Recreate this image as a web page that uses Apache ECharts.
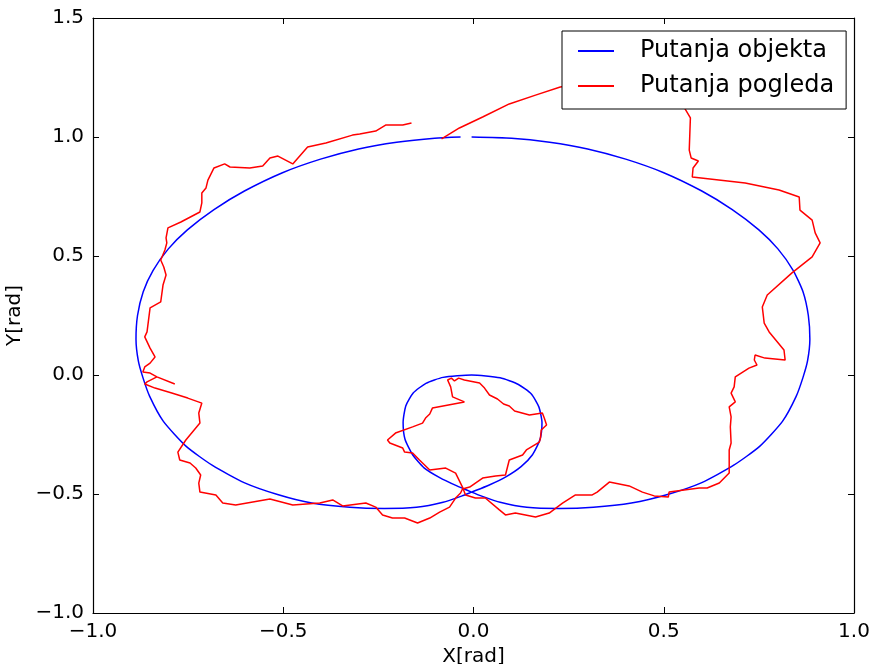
<!DOCTYPE html>
<html>
<head>
<meta charset="utf-8">
<script src="https://cdn.jsdelivr.net/npm/echarts@6/dist/echarts.min.js"></script>
<style>
html,body{margin:0;padding:0;background:#fff;overflow:hidden;}
#chart{width:870px;height:664px;}
</style>
</head>
<body>
<div id="chart"></div>
<script>
// Object trajectory (blue)
const objectX = [-0.005, 0.100, 0.200, 0.300, 0.400, 0.500, 0.600, 0.680, 0.750, 0.800, 0.840, 0.866, 0.880, 0.884, 0.878, 0.866, 0.848, 0.812, 0.752, 0.683, 0.600, 0.510, 0.415, 0.315, 0.225, 0.140, 0.070, 0.020, -0.005, -0.045, -0.090, -0.130, -0.160, -0.180, -0.185, -0.178, -0.158, -0.125, -0.080, -0.005, 0.070, 0.118, 0.152, 0.172, 0.180, 0.175, 0.155, 0.125, 0.085, 0.040, -0.005, -0.030, -0.080, -0.150, -0.235, -0.325, -0.425, -0.515, -0.603, -0.686, -0.755, -0.815, -0.851, -0.869, -0.881, -0.887, -0.883, -0.868, -0.842, -0.802, -0.752, -0.682, -0.602, -0.502, -0.402, -0.302, -0.202, -0.102, -0.034];
const objectY = [1.000, 0.995, 0.978, 0.950, 0.907, 0.850, 0.773, 0.695, 0.610, 0.530, 0.440, 0.350, 0.250, 0.150, 0.060, -0.010, -0.090, -0.195, -0.300, -0.380, -0.452, -0.502, -0.538, -0.556, -0.561, -0.556, -0.535, -0.508, -0.492, -0.465, -0.430, -0.390, -0.335, -0.270, -0.200, -0.130, -0.075, -0.035, -0.010, 0.000, -0.012, -0.040, -0.080, -0.135, -0.200, -0.270, -0.335, -0.385, -0.428, -0.463, -0.492, -0.508, -0.535, -0.556, -0.561, -0.556, -0.538, -0.502, -0.452, -0.380, -0.300, -0.195, -0.090, -0.010, 0.060, 0.150, 0.250, 0.350, 0.440, 0.530, 0.610, 0.695, 0.773, 0.850, 0.907, 0.950, 0.978, 0.995, 1.000];

// Gaze trajectory (red)
const gazeX = [-0.084, -0.037, 0.024, 0.094, 0.163, 0.228, 0.383, 0.514, 0.551, 0.556, 0.570, 0.567, 0.572, 0.591, 0.577, 0.575, 0.714, 0.803, 0.856, 0.858, 0.890, 0.898, 0.911, 0.890, 0.837, 0.772, 0.759, 0.764, 0.777, 0.816, 0.819, 0.766, 0.740, 0.738, 0.745, 0.724, 0.688, 0.685, 0.677, 0.688, 0.672, 0.677, 0.675, 0.677, 0.672, 0.672, 0.646, 0.614, 0.593, 0.514, 0.512, 0.475, 0.444, 0.409, 0.357, 0.325, 0.312, 0.268, 0.234, 0.199, 0.163, 0.110, 0.084, 0.068, 0.031, 0.005, -0.021, -0.029,
  -0.047, -0.073, -0.115, -0.142, -0.160, -0.181, -0.186, -0.220, -0.226, -0.205, -0.160, -0.134, -0.126, -0.115, -0.108, -0.024, -0.055, -0.060, -0.068, -0.058, -0.050, -0.039, -0.024, 0.016, 0.029, 0.042, 0.063, 0.079, 0.094, 0.108, 0.147, 0.181, 0.186, 0.192, 0.178, 0.176, 0.173, 0.139, 0.129, 0.094, 0.084, 0.058, 0.024, 0.005, -0.010, -0.029,
  -0.034, -0.047, -0.063, -0.089, -0.115, -0.147, -0.181, -0.213, -0.239, -0.257, -0.283, -0.344, -0.370, -0.404, -0.475, -0.535, -0.625, -0.659, -0.677, -0.719, -0.722, -0.717, -0.730, -0.745, -0.772, -0.777, -0.756, -0.719, -0.722, -0.714, -0.751, -0.793, -0.837, -0.864, -0.858, -0.832, -0.785, -0.832, -0.850, -0.869, -0.864, -0.850, -0.837, -0.850, -0.864, -0.858, -0.850, -0.822, -0.816, -0.808, -0.814, -0.822, -0.811, -0.806, -0.808, -0.803, -0.769, -0.719, -0.714, -0.714, -0.703, -0.698, -0.682, -0.654, -0.640, -0.588, -0.554, -0.535, -0.514, -0.475, -0.436, -0.388, -0.318, -0.299, -0.257, -0.231, -0.186, -0.163];
const gazeY = [0.992, 1.038, 1.084, 1.139, 1.176, 1.210, 1.248, 1.176, 1.130, 1.118, 1.080, 0.945, 0.912, 0.899, 0.870, 0.832, 0.807, 0.777, 0.748, 0.693, 0.651, 0.597, 0.555, 0.496, 0.429, 0.336, 0.286, 0.218, 0.181, 0.105, 0.063, 0.071, 0.084, 0.063, 0.042, 0.029, -0.008, -0.050, -0.076, -0.113, -0.134, -0.176, -0.218, -0.286, -0.315, -0.412, -0.454, -0.475, -0.475, -0.492, -0.513, -0.508, -0.492, -0.466, -0.450, -0.492, -0.504, -0.504, -0.538, -0.580, -0.597, -0.580, -0.588, -0.567, -0.517, -0.517, -0.504, -0.471,
  -0.412, -0.391, -0.399, -0.357, -0.328, -0.324, -0.307, -0.286, -0.273, -0.244, -0.218, -0.202, -0.181, -0.164, -0.139, -0.113, -0.092, -0.050, -0.021, -0.013, -0.025, -0.013, -0.021, -0.034, -0.055, -0.084, -0.101, -0.122, -0.130, -0.151, -0.168, -0.160, -0.181, -0.210, -0.231, -0.265, -0.282, -0.315, -0.336, -0.357, -0.420, -0.424, -0.433, -0.454, -0.471, -0.479,
  -0.496, -0.517, -0.555, -0.576, -0.601, -0.622, -0.601, -0.601, -0.588, -0.555, -0.538, -0.550, -0.525, -0.538, -0.546, -0.521, -0.546, -0.538, -0.504, -0.492, -0.454, -0.420, -0.391, -0.370, -0.357, -0.324, -0.273, -0.202, -0.160, -0.118, -0.097, -0.076, -0.055, -0.038, -0.029, -0.008, -0.038, -0.008, 0.008, 0.013, 0.034, 0.050, 0.076, 0.113, 0.160, 0.181, 0.282, 0.307, 0.378, 0.420, 0.454, 0.483, 0.525, 0.555, 0.576, 0.618, 0.643, 0.685, 0.723, 0.765, 0.786, 0.819, 0.870, 0.887, 0.874, 0.870, 0.878, 0.912, 0.920, 0.887, 0.958, 0.975, 1.008, 1.013, 1.025, 1.050, 1.050, 1.059];

const seriesNames = ['Putanja objekta', 'Putanja pogleda'];
const seriesColors = ['#0000ff', '#ff0000'];
const xTicks = { min: -1.0, max: 1.0, step: 0.5 };
const yTicks = { min: -1.0, max: 1.5, step: 0.5 };
const axisNames = { x: 'X[rad]', y: 'Y[rad]' };

const FONT = 'DejaVu Sans';
const fmt = v => v.toFixed(1).replace('-', '\u2212');
const objData = objectX.map((x, i) => [x, objectY[i]]);
const gazeData = gazeX.map((x, i) => [x, gazeY[i]]);

const axisLine = { show: true, onZero: false, lineStyle: { color: '#000', width: 1.2 } };
const tickIn = { show: true, inside: true, length: 6, lineStyle: { color: '#000', width: 1 } };

const chart = echarts.init(document.getElementById('chart'), null, { renderer: 'canvas' });
chart.setOption({
  animation: false,
  backgroundColor: '#fff',
  grid: { left: 93, right: 16, top: 18, bottom: 51, containLabel: false, outerBoundsMode: 'none' },
  legend: {
    orient: 'vertical',
    left: 562, top: 31,
    padding: [8, 12, 11, 16],
    icon: 'rect',
    itemWidth: 36, itemHeight: 2, itemGap: 11,
    backgroundColor: '#fff',
    borderColor: '#000', borderWidth: 1, borderRadius: 0,
    textStyle: { fontFamily: FONT, fontSize: 24, color: '#000', padding: [0, 0, 0, 21], lineHeight: 24 },
    data: seriesNames
  },
  xAxis: [
    { type: 'value', position: 'bottom', min: xTicks.min, max: xTicks.max, interval: xTicks.step,
      name: axisNames.x, nameLocation: 'middle', nameGap: 30,
      nameTextStyle: { fontFamily: FONT, fontSize: 20, color: '#000' },
      axisLine: axisLine, axisTick: tickIn, splitLine: { show: false },
      axisLabel: { formatter: fmt, fontFamily: FONT, fontSize: 20, color: '#000', margin: 9 } },
    { type: 'value', position: 'top', min: xTicks.min, max: xTicks.max, interval: xTicks.step,
      axisLine: axisLine, axisTick: tickIn, splitLine: { show: false }, axisLabel: { show: false } }
  ],
  yAxis: [
    { type: 'value', position: 'left', min: yTicks.min, max: yTicks.max, interval: yTicks.step,
      name: axisNames.y, nameLocation: 'middle', nameGap: 50, nameRotate: 90,
      nameTextStyle: { fontFamily: FONT, fontSize: 20, color: '#000' },
      axisLine: axisLine, axisTick: tickIn, splitLine: { show: false },
      axisLabel: { formatter: fmt, fontFamily: FONT, fontSize: 20, color: '#000', margin: 9 } },
    { type: 'value', position: 'right', min: yTicks.min, max: yTicks.max, interval: yTicks.step,
      axisLine: axisLine, axisTick: tickIn, splitLine: { show: false }, axisLabel: { show: false } }
  ],
  series: [
    { name: seriesNames[0], type: 'line', data: objData, xAxisIndex: 0, yAxisIndex: 0,
      symbol: 'none', smooth: 0.2, lineStyle: { color: seriesColors[0], width: 1.5 }, itemStyle: { color: seriesColors[0] } },
    { name: seriesNames[1], type: 'line', data: gazeData, xAxisIndex: 0, yAxisIndex: 0,
      symbol: 'none', smooth: false, lineStyle: { color: seriesColors[1], width: 1.5 }, itemStyle: { color: seriesColors[1] } }
  ]
});
</script>
</body>
</html>
